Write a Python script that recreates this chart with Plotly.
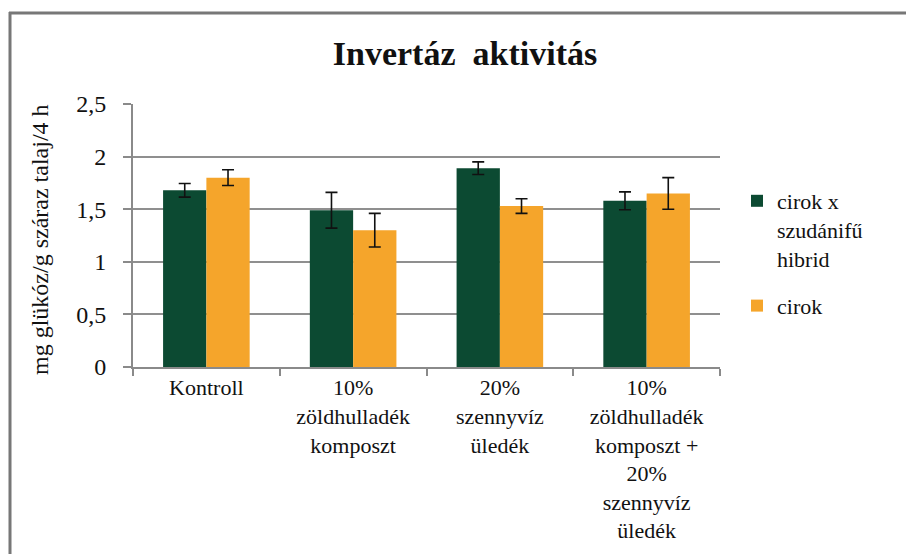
import plotly.graph_objects as go

categories = [
    "Kontroll",
    "10%<br>zöldhulladék<br>komposzt",
    "20%<br>szennyvíz<br>üledék",
    "10%<br>zöldhulladék<br>komposzt +<br>20%<br>szennyvíz<br>üledék",
]
series_names = ["cirok x<br>szudánifű<br>hibrid", "cirok"]
hybrid_values = [1.68, 1.49, 1.89, 1.58]
hybrid_errors = [0.065, 0.17, 0.06, 0.085]
cirok_values = [1.80, 1.30, 1.53, 1.65]
cirok_errors = [0.075, 0.16, 0.07, 0.15]
ytick_values = [0, 0.5, 1, 1.5, 2, 2.5]
ytick_labels = ["0", "0,5", "1", "1,5", "2", "2,5"]

GREEN = "#0c4a32"
ORANGE = "#f5a52b"
FONT = "Liberation Serif"
TXT = "#111111"

OFF = 8  # page offset of the plot div (body margin)
W, H = 914 - OFF, 554 - OFF
# plot area in page pixels
L, R, T, B = 133 - OFF, 720 - OFF, 104 - OFF, 367 - OFF


def px_x(px):
    return (px - OFF - L) / (R - L)


def px_y(py):
    return (B - (py - OFF)) / (B - T)


fig = go.Figure()
fig.add_trace(go.Bar(
    x=categories, y=hybrid_values, name=series_names[0],
    marker=dict(color=GREEN, line=dict(width=0)),
    error_y=dict(type="data", array=hybrid_errors, color=TXT, thickness=1.6, width=6),
    legendgroup="a",
))
fig.add_trace(go.Bar(
    x=categories, y=cirok_values, name=series_names[1],
    marker=dict(color=ORANGE, line=dict(width=0)),
    error_y=dict(type="data", array=cirok_errors, color=TXT, thickness=1.6, width=6),
    legendgroup="b",
))

fig.update_layout(
    width=W, height=H,
    margin=dict(l=L, r=W - R, t=T, b=H - B, pad=0),
    paper_bgcolor="white", plot_bgcolor="white",
    barmode="group", bargap=0.41, bargroupgap=0,
    font=dict(family=FONT, size=22, color=TXT),
    title=dict(
        text="<b>Invertáz  aktivitás</b>", xref="container", yref="container",
        x=(465 - OFF) / W, y=1 - (53 - OFF) / H, xanchor="center", yanchor="middle",
        font=dict(family=FONT, size=34, color=TXT),
    ),
    legend=dict(
        x=px_x(737), y=px_y(180), xanchor="left", yanchor="top",
        font=dict(family=FONT, size=22, color=TXT),
        valign="top", tracegroupgap=16, bgcolor="rgba(0,0,0,0)",
    ),
    showlegend=True,
)

fig.update_xaxes(
    showline=True, linecolor="#8a8a8a", linewidth=2,
    ticks="outside", tickson="boundaries", ticklen=7, tickcolor="#8a8a8a", tickwidth=1.5,
    showgrid=False, tickangle=0,
    tickfont=dict(family=FONT, size=22, color=TXT),
)
fig.update_yaxes(
    range=[0, 2.5], tickvals=ytick_values, ticktext=ytick_labels,
    showline=True, linecolor="#8a8a8a", linewidth=2,
    ticks="outside", ticklen=8, tickcolor="#8a8a8a", tickwidth=1.5,
    showgrid=True, gridcolor="#8f8f8f", gridwidth=2,
    zeroline=False,
    tickfont=dict(family=FONT, size=24, color=TXT),
    ticklabelstandoff=12,
)

fig.add_annotation(
    text="mg glükóz/g száraz talaj/4 h", textangle=-90,
    xref="paper", yref="paper", x=px_x(40), y=px_y(240),
    xanchor="center", yanchor="middle", showarrow=False,
    font=dict(family=FONT, size=24, color=TXT),
)

# outer frame (top and left edges visible)
fig.add_shape(type="line", xref="paper", yref="paper",
              x0=px_x(9), x1=px_x(914 + 5), y0=px_y(13), y1=px_y(13),
              line=dict(color="#777777", width=3))
fig.add_shape(type="line", xref="paper", yref="paper",
              x0=px_x(10), x1=px_x(10), y0=px_y(12), y1=px_y(554 + 5),
              line=dict(color="#777777", width=3))

fig.write_html("out.html")
